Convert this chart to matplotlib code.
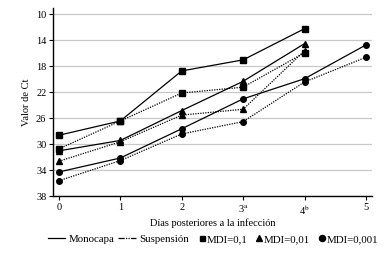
import matplotlib.pyplot as plt
from matplotlib.lines import Line2D

plt.rcParams['font.family'] = 'Liberation Serif'
plt.rcParams['mathtext.fontset'] = 'stix'

dias = [0, 1, 2, 3, 4]
dias_c = [0, 1, 2, 3, 4, 5]
etiquetas_x = ['0', '1', '2', r'3$^{\mathrm{a}}$', r'4$^{\mathrm{b}}$', '5']
ticks_y = [10, 14, 18, 22, 26, 30, 34, 38]

# Monocapa (línea continua)
mono_01 = [28.6, 26.4, 18.7, 17.0, 12.2]
mono_001 = [31.0, 29.4, 24.8, 20.3, 14.5]
mono_0001 = [34.25, 32.1, 27.6, 23.0, 19.9, 14.7]
# Suspensión (línea punteada)
susp_01 = [30.7, 26.4, 22.1, 21.2, 15.9]
susp_001 = [32.6, 29.6, 25.5, 24.6, 15.6]
susp_0001 = [35.6, 32.5, 28.4, 26.5, 20.4, 16.6]

fig = plt.figure(figsize=(3.84, 2.54), dpi=100)
ax = fig.add_axes([0.139, 0.227, 0.83, 0.742])

kw = dict(color='black', lw=0.9, markersize=4)
ax.plot(dias, mono_01, marker='s', ls='-', **kw)
ax.plot(dias, mono_001, marker='^', ls='-', **kw)
ax.plot(dias_c, mono_0001, marker='o', ls='-', **kw)
ax.plot(dias, susp_01, marker='s', ls=(0, (1, 1)), **kw)
ax.plot(dias, susp_001, marker='^', ls=(0, (1, 1)), **kw)
ax.plot(dias_c, susp_0001, marker='o', ls=(0, (1, 1)), **kw)

ax.set_ylim(38, 9.0)
ax.set_xlim(-0.09, 5.1)
ax.set_yticks(ticks_y)
ax.set_xticks(dias_c)
ax.set_xticklabels(etiquetas_x)
ax.grid(axis='y', color='#c8c8c8', lw=0.9)
ax.set_axisbelow(True)
for s in ['top', 'right']:
    ax.spines[s].set_visible(False)
for s in ['left', 'bottom']:
    ax.spines[s].set_linewidth(1.0)
ax.tick_params(labelsize=7.5, length=3, width=0.8, pad=2)
ax.set_ylabel('Valor de Ct', fontsize=7.5, labelpad=4)
ax.set_xlabel('Días posteriores a la infección', fontsize=7.5, labelpad=1)

# leyenda de líneas
h_lineas = [
    Line2D([], [], color='black', lw=0.9, ls='-'),
    Line2D([], [], color='black', lw=0.9, ls=(0, (5, 1, 1, 1, 1, 1))),
]
fig.legend(h_lineas, ['Monocapa', 'Suspensión'], loc='center left',
           bbox_to_anchor=(0.11, 0.058), ncol=2, frameon=False,
           fontsize=7.8, handlelength=1.6, handletextpad=0.35,
           columnspacing=0.35, borderpad=0)

# leyenda de marcadores
h_marc = [
    Line2D([], [], color='black', marker='s', ls='none', markersize=3.6),
    Line2D([], [], color='black', marker='^', ls='none', markersize=4.2),
    Line2D([], [], color='black', marker='o', ls='none', markersize=4.4),
]
fig.legend(h_marc, ['MDI=0,1', 'MDI=0,01', 'MDI=0,001'], loc='center left',
           bbox_to_anchor=(0.505, 0.058), ncol=3, frameon=False,
           fontsize=7.8, handlelength=0.5, handletextpad=0.2,
           columnspacing=0.8, borderpad=0)

fig.savefig('out.png', dpi=100)
